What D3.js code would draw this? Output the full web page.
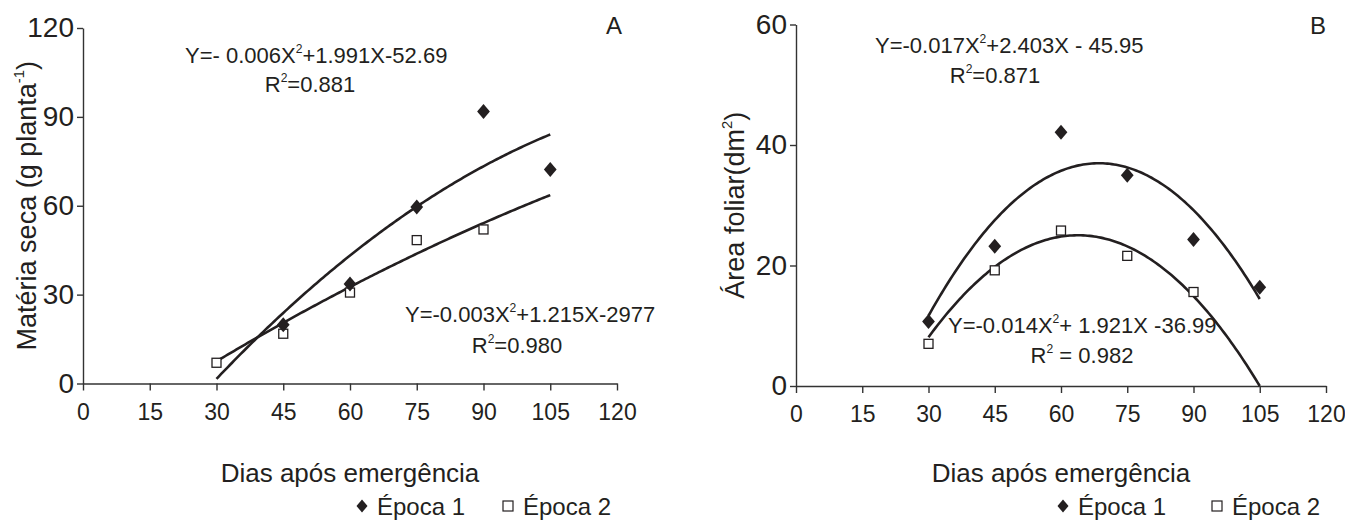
<!DOCTYPE html>
<html>
<head>
<meta charset="utf-8">
<script src="https://cdn.jsdelivr.net/npm/d3@7"></script>
<style>
  body { margin: 0; background: #fff; }
  svg text { font-family: "Liberation Sans", Arial, sans-serif; fill: #231f20; }
  .ytick text { font-family: "Liberation Sans Narrow", "Liberation Sans", Arial, sans-serif; }
</style>
</head>
<body>
<svg id="chart" width="1345" height="529"></svg>
<script>
'use strict';

// tick labels
var xTicks = [0, 15, 30, 45, 60, 75, 90, 105, 120];
var yTicksA = [0, 30, 60, 90, 120];
var yTicksB = [0, 20, 40, 60];

// Panel A - Matéria seca
var diasA1 = [45, 60, 75, 90, 105];
var msEpoca1 = [19.8, 33.6, 59.6, 91.8, 72.2];
var diasA2 = [30, 45, 60, 75, 90];
var msEpoca2 = [7.0, 16.8, 30.7, 48.4, 52.0];
var trendA1 = [-0.0064, 1.964, -51.6];
var trendA2 = [-0.00197, 1.014, -21.15];

// Panel B - Área foliar
var diasB1 = [30, 45, 60, 75, 90, 105];
var afEpoca1 = [10.7, 23.2, 42.1, 35.0, 24.3, 16.4];
var diasB2 = [30, 45, 60, 75, 90];
var afEpoca2 = [7.0, 19.2, 25.8, 21.6, 15.6];
var trendB1 = [-0.017, 2.332, -43.0];
var trendB2 = [-0.01477, 1.886, -35.19];

// texts: [normal, superscript, normal]
var eqA1 = ['Y=- 0.006X', '2', '+1.991X-52.69'];
var r2A1 = ['R', '2', '=0.881'];
var eqA2 = ['Y=-0.003X', '2', '+1.215X-2977'];
var r2A2 = ['R', '2', '=0.980'];
var eqB1 = ['Y=-0.017X', '2', '+2.403X - 45.95'];
var r2B1 = ['R', '2', '=0.871'];
var eqB2 = ['Y=-0.014X', '2', '+ 1.921X -36.99'];
var r2B2 = ['R', '2', ' = 0.982'];
var yTitleA = ['Matéria seca (g planta', '-1', ')'];
var yTitleB = ['Área foliar(dm', '2', ')'];
var xTitle = 'Dias após emergência';
var legendNames = ['Época 1', 'Época 2'];

var ink = '#231f20';
var svg = d3.select('#chart');

var supText = function (sel, parts, size) {
    sel.append('tspan').text(parts[0]);
    sel.append('tspan').attr('dy', -size * 0.45).attr('font-size', size * 0.55).text(parts[1]);
    sel.append('tspan').attr('dy', size * 0.45).text(parts[2]);
};

var diamond = function (s) {
    return 'M0,' + (-s) + 'L' + (s * 0.85) + ',0L0,' + s + 'L' + (-s * 0.85) + ',0Z';
};

var drawPanel = function (cfg) {
    var g = svg.append('g');
    var x = d3.scaleLinear().domain([0, 120]).range(cfg.xRange);
    var y = d3.scaleLinear().domain(cfg.yDomain).range(cfg.yRange);

    var xAxis = g.append('g').attr('transform', 'translate(0,' + cfg.yRange[0] + ')')
        .call(d3.axisBottom(x).tickValues(xTicks).tickSize(7).tickPadding(13).tickSizeOuter(0));
    xAxis.selectAll('text').attr('font-size', 23).attr('fill', ink);

    var yAxis = g.append('g').attr('class', 'ytick').attr('transform', 'translate(' + cfg.xRange[0] + ',0)')
        .call(d3.axisLeft(y).tickValues(cfg.yTicks).tickSize(6).tickPadding(3).tickSizeOuter(0));
    yAxis.selectAll('text').attr('font-size', 28).attr('fill', ink);

    g.selectAll('.domain, .tick line').attr('stroke', '#333').attr('stroke-width', 1.4);

    // trend lines
    var line = d3.line().x(function (d) { return x(d[0]); }).y(function (d) { return y(d[1]); });
    cfg.trends.forEach(function (c) {
        var pts = d3.range(30, 105.01, 0.5).map(function (d) {
            return [d, c[0] * d * d + c[1] * d + c[2]];
        });
        g.append('path').attr('d', line(pts)).attr('fill', 'none')
            .attr('stroke', ink).attr('stroke-width', 2.6);
    });

    // Época 2 squares
    g.selectAll('rect.ep2').data(cfg.dias2).enter().append('rect').attr('class', 'ep2')
        .attr('x', function (d) { return x(d) - 4.5; })
        .attr('y', function (d, i) { return y(cfg.vals2[i]) - 4.5; })
        .attr('width', 9).attr('height', 9)
        .attr('fill', '#fff').attr('stroke', ink).attr('stroke-width', 1.3);

    // Época 1 diamonds
    g.selectAll('path.ep1').data(cfg.dias1).enter().append('path').attr('class', 'ep1')
        .attr('d', diamond(7.5)).attr('fill', ink)
        .attr('transform', function (d, i) {
            return 'translate(' + x(d) + ',' + y(cfg.vals1[i]) + ')';
        });

    // equations
    cfg.eqs.forEach(function (e) {
        var t = g.append('text').attr('x', e.x).attr('y', e.y).attr('font-size', 22)
            .attr('text-anchor', e.anchor);
        supText(t, e.parts, 22);
    });

    // panel letter
    g.append('text').attr('x', cfg.letterX).attr('y', 34).attr('font-size', 24)
        .attr('text-anchor', 'middle').text(cfg.letter);

    // axis titles
    g.append('text').attr('x', (cfg.xRange[0] + cfg.xRange[1]) / 2).attr('y', 482)
        .attr('font-size', 26).attr('text-anchor', 'middle').text(xTitle);
    var yt = g.append('text').attr('font-size', 27).attr('text-anchor', 'middle')
        .attr('transform', 'translate(' + cfg.yTitleX + ',' + ((cfg.yRange[0] + cfg.yRange[1]) / 2) + ') rotate(-90)');
    supText(yt, cfg.yTitle, 27);

    // legend
    var lg = g.append('g').attr('transform', 'translate(0,506)');
    lg.append('path').attr('d', diamond(6.5)).attr('fill', ink)
        .attr('transform', 'translate(' + cfg.legendX[0] + ',0)');
    lg.append('text').attr('x', cfg.legendX[0] + 15).attr('y', 9).attr('font-size', 24).text(legendNames[0]);
    lg.append('rect').attr('x', cfg.legendX[1] - 5).attr('y', -5).attr('width', 10).attr('height', 10)
        .attr('fill', '#fff').attr('stroke', ink).attr('stroke-width', 1.2);
    lg.append('text').attr('x', cfg.legendX[1] + 15).attr('y', 9).attr('font-size', 24).text(legendNames[1]);
};

drawPanel({
    xRange: [83, 617], yDomain: [0, 120], yRange: [383.5, 28], yTicks: yTicksA,
    dias1: diasA1, vals1: msEpoca1, dias2: diasA2, vals2: msEpoca2,
    trends: [trendA1, trendA2],
    eqs: [
        { parts: eqA1, x: 185, y: 63, anchor: 'start' },
        { parts: r2A1, x: 310, y: 92, anchor: 'middle' },
        { parts: eqA2, x: 405, y: 322, anchor: 'start' },
        { parts: r2A2, x: 517, y: 353, anchor: 'middle' }
    ],
    letter: 'A', letterX: 614, yTitle: yTitleA, yTitleX: 36, legendX: [362, 508]
});

drawPanel({
    xRange: [796, 1326], yDomain: [0, 60], yRange: [386, 24.5], yTicks: yTicksB,
    dias1: diasB1, vals1: afEpoca1, dias2: diasB2, vals2: afEpoca2,
    trends: [trendB1, trendB2],
    eqs: [
        { parts: eqB1, x: 875, y: 53, anchor: 'start' },
        { parts: r2B1, x: 995, y: 83, anchor: 'middle' },
        { parts: eqB2, x: 948, y: 333, anchor: 'start' },
        { parts: r2B2, x: 1082, y: 363, anchor: 'middle' }
    ],
    letter: 'B', letterX: 1318, yTitle: yTitleB, yTitleX: 744, legendX: [1063, 1217]
});
</script>
</body>
</html>
